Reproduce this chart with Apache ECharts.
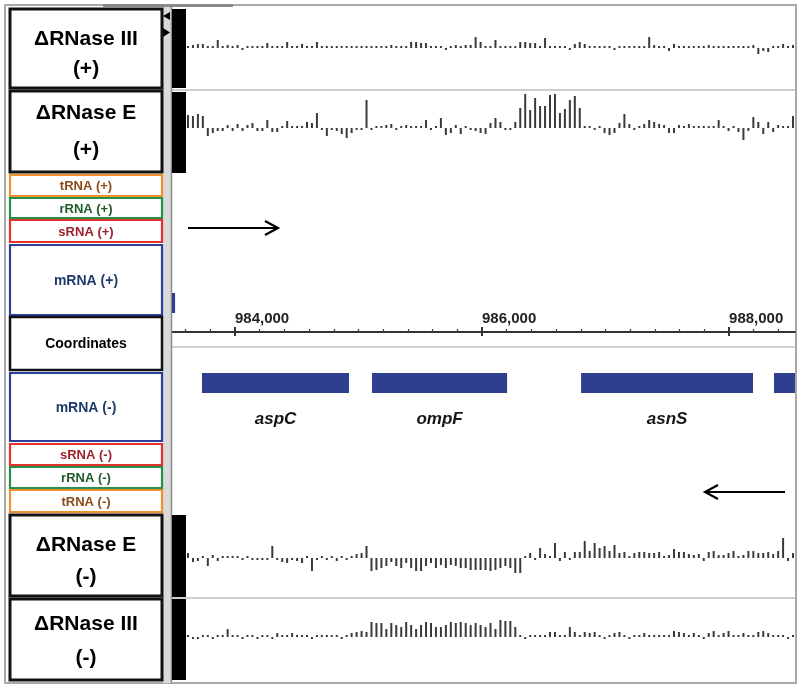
<!DOCTYPE html>
<html><head><meta charset="utf-8">
<script src="https://cdn.jsdelivr.net/npm/echarts@6/dist/echarts.min.js"></script>
<style>html,body{margin:0;padding:0;background:#fff}#c{width:800px;height:689px}</style>
</head><body><div id="c"></div>
<script>
// ---- coverage tracks (one value per bin) ----
const rnaseIIIPlus = [1,3,4,4,1,1,8,1,3,1, 3,-1,1,1,1,1,5,1,1,1, 6,1,1,4,1,1,6,1,1,1, 1,1,1,1,1,1,1,2,1,1,
  1,3,1,1,1,6,6,5,5,1, 1,1,-1,2,3,1,3,3,11,6, 1,2,8,2,1,1,1,6,6,5, 5,1,10,1,2,1,1,-1,4,6,
  4,1,1,1,2,1,-1,1,1,1, 1,1,2,11,3,2,1,-3,4,1, 1,1,1,1,1,3,1,1,1,1, 1,1,1,1,3,-6,-3,-4,1,1, 4,1,3];
const rnaseEPlus = [13,12,14,12,-8,-5,-3,-3,3,-3, 4,-3,3,5,-3,-3,8,-4,-4,2, 7,2,2,1,6,5,15,-1,-8,-2,
  -3,-6,-10,-5,-2,-2,28,-2,2,2, 3,4,-2,1,3,2,1,1,8,-2, 2,10,-7,-5,3,-6,1,-2,-3,-5,
  -6,5,10,6,-2,-2,6,20,34,18, 30,22,22,33,34,15,19,28,32,20, 2,2,-2,1,-5,-7,-5,5,14,4,
  -2,2,4,8,6,4,3,-5,-5,3, 2,4,1,1,1,1,1,8,2,-3, 2,-4,-12,-3,11,6,-6,6,-4,3, 2,1,12];
const rnaseEMinus = [5,-4,-3,1,-8,3,-3,1,1,2, 1,-1,1,-2,-2,-2,-2,12,-2,-4, -5,-2,-3,-5,2,-13,-2,1,-1,1,
  -3,1,-2,1,4,5,12,-13,-12,-10, -8,-4,-8,-10,-5,-10,-13,-13,-8,-5, -10,-7,-10,-7,-8,-10,-10,-12,-12,-12,
  -12,-13,-12,-10,-8,-10,-15,-15,2,5, -2,10,4,2,15,-3,6,-2,6,6, 17,7,15,10,12,7,13,5,6,1,
  5,6,6,5,5,6,2,3,9,6, 6,4,3,4,-3,6,7,3,3,5, 7,1,3,7,7,5,5,6,4,7, 20,-3,5];
const rnaseIIIMinus = [2,-2,-2,1,2,-1,1,1,8,1, 2,-1,1,2,-1,2,1,-1,4,1, 2,4,1,2,1,-1,1,1,1,1,
  1,-1,1,4,5,6,5,15,14,14, 8,14,12,10,15,12,8,12,15,14, 10,10,12,15,14,15,14,12,14,12,
  10,14,8,17,16,16,10,2,-1,1, 2,2,1,5,5,1,2,10,5,2, 5,4,5,1,-1,2,4,5,2,-1,
  2,2,4,1,1,2,1,1,6,5, 4,2,4,1,-1,4,6,2,4,6, 2,2,4,1,2,5,6,4,2,2, 1,-1,2];

// ---- genome coordinates ----
const coordRange = [983490, 988534];
const majorTicks = [984000, 986000, 988000];
const minorTicks = [983600, 983800, 984200, 984400, 984600, 984800, 985000, 985200, 985400, 985600, 985800,
  986200, 986400, 986600, 986800, 987000, 987200, 987400, 987600, 987800, 988200, 988400];

// ---- genes ----
const plusGeneNames = [''];
const plusGeneStarts = [983300];
const plusGeneEnds = [983515];
const minusGeneNames = ['aspC', 'ompF', 'asnS', ''];
const minusGeneStarts = [983733, 985109, 986802, 988364];
const minusGeneEnds = [984923, 986203, 988194, 988700];

// ---- track labels ----
const trackTitles = ['\u0394RNase III', '\u0394RNase E', '\u0394RNase E', '\u0394RNase III'];
const trackStrands = ['(+)', '(+)', '(-)', '(-)'];
const laneLabels = ['tRNA (+)', 'rRNA (+)', 'sRNA (+)', 'mRNA (+)', 'Coordinates', 'mRNA (-)', 'sRNA (-)', 'rRNA (-)', 'tRNA (-)'];

const chart = echarts.init(document.getElementById('c'), null, {renderer: 'canvas'});
const bins = rnaseIIIPlus.map((_, i) => i);
const tracks = [rnaseIIIPlus, rnaseEPlus, rnaseEMinus, rnaseIIIMinus];
const trackBaselines = [48, 128, 558, 637];
const H = 38;

const grids = [], xAxes = [], yAxes = [], series = [];
tracks.forEach((d, k) => {
  grids.push({left: 185.5, width: 610, top: trackBaselines[k] - H, height: 2 * H});
  xAxes.push({gridIndex: k, type: 'category', data: bins, show: false});
  yAxes.push({gridIndex: k, type: 'value', min: -H, max: H, show: false});
  series.push({type: 'bar', xAxisIndex: k, yAxisIndex: k, data: d, barWidth: 2, barMinHeight: 2,
    itemStyle: {color: '#3a3a3a'}, silent: true});
});
// coordinate axis grid (4)
grids.push({left: 172, width: 623, top: 300, height: 32});
const fmt = v => String(v).replace(/\B(?=(\d{3})+(?!\d))/g, ',');
xAxes.push({gridIndex: 4, type: 'value', min: coordRange[0], max: coordRange[1], position: 'bottom',
  axisLine: {show: true, lineStyle: {color: '#333', width: 2}},
  axisTick: {show: true, inside: true, length: 5, customValues: majorTicks, lineStyle: {color: '#333', width: 2}},
  axisLabel: {show: true, inside: true, customValues: majorTicks, align: 'left', margin: 6, color: '#222',
    fontSize: 15, fontWeight: 'bold', fontFamily: 'Liberation Sans, Arial', formatter: fmt},
  splitLine: {show: false}});
xAxes.push({gridIndex: 4, type: 'value', min: coordRange[0], max: coordRange[1], position: 'bottom',
  axisLine: {show: false},
  axisTick: {show: true, inside: true, length: 3, customValues: minorTicks, lineStyle: {color: '#444', width: 1.2}},
  axisLabel: {show: false}, splitLine: {show: false}});
xAxes.push({gridIndex: 4, type: 'value', min: coordRange[0], max: coordRange[1], position: 'bottom',
  axisLine: {show: false},
  axisTick: {show: true, inside: false, length: 4, customValues: majorTicks, lineStyle: {color: '#333', width: 2}},
  axisLabel: {show: false}, splitLine: {show: false}});
yAxes.push({gridIndex: 4, type: 'value', show: false});
// gene lanes (grids 5,6) -> xAxis 7,8 ; yAxis 5,6
grids.push({left: 172, width: 623, top: 293, height: 20});
grids.push({left: 172, width: 623, top: 373, height: 20});
xAxes.push({gridIndex: 5, type: 'value', min: coordRange[0], max: coordRange[1], show: false});
xAxes.push({gridIndex: 6, type: 'value', min: coordRange[0], max: coordRange[1], show: false});
yAxes.push({gridIndex: 5, type: 'category', data: ['mRNA (+)'], show: false});
yAxes.push({gridIndex: 6, type: 'category', data: ['mRNA (-)'], show: false});

function geneRender(names) {
  return function (params, api) {
    const s = api.coord([api.value(0), api.value(2)]);
    const e = api.coord([api.value(1), api.value(2)]);
    const h = api.size([0, 1])[1];
    const cs = params.coordSys;
    const r = echarts.graphic.clipRectByRect({x: s[0], y: s[1] - h / 2, width: e[0] - s[0], height: h},
      {x: cs.x, y: cs.y, width: cs.width, height: cs.height});
    if (!r) return;
    const children = [{type: 'rect', shape: r, style: {fill: '#2f3e8e'}}];
    const nm = names[params.dataIndex];
    if (nm) children.push({type: 'text', style: {text: nm, x: s[0] + (e[0] - s[0]) / 2, y: s[1] + h / 2 + 26,
      font: 'italic bold 17px "Liberation Sans", Arial', fill: '#151515', textAlign: 'center', textVerticalAlign: 'middle'}});
    return {type: 'group', children};
  };
}
series.push({type: 'custom', xAxisIndex: 7, yAxisIndex: 5, clip: false, silent: true,
  encode: {x: [0, 1], y: 2},
  renderItem: geneRender(plusGeneNames), data: plusGeneStarts.map((s, i) => [s, plusGeneEnds[i], 0])});
series.push({type: 'custom', xAxisIndex: 8, yAxisIndex: 6, clip: false, silent: true,
  encode: {x: [0, 1], y: 2},
  renderItem: geneRender(minusGeneNames), data: minusGeneStarts.map((s, i) => [s, minusGeneEnds[i], 0])});

// ---- decorative frame & label boxes ----
const g = [];
g.push({type: 'rect', z: 0, shape: {x: 5, y: 5, width: 791, height: 678}, style: {fill: 'none', stroke: '#a8a8a8', lineWidth: 2}});
g.push({type: 'rect', z: 1, shape: {x: 103, y: 4, width: 130, height: 3}, style: {fill: '#8a8a8a'}});
g.push({type: 'rect', z: 0, shape: {x: 163, y: 6, width: 9, height: 677}, style: {fill: '#dadada'}});
g.push({type: 'line', z: 1, shape: {x1: 171.5, y1: 6, x2: 171.5, y2: 683}, style: {stroke: '#8c8c8c', lineWidth: 1.5}});
[[9, 88], [92, 173], [515, 597], [599, 680]].forEach(([a, b]) =>
  g.push({type: 'rect', z: 5, shape: {x: 172, y: a, width: 14, height: b - a}, style: {fill: '#000'}}));
[90, 347, 598].forEach(y =>
  g.push({type: 'line', z: 1, shape: {x1: 172, y1: y, x2: 795, y2: y}, style: {stroke: '#a0a0a0', lineWidth: 1.2}}));
g.push({type: 'polygon', z: 5, shape: {points: [[170, 12], [163, 16], [170, 20]]}, style: {fill: '#000'}});
g.push({type: 'polygon', z: 5, shape: {points: [[163, 28], [170, 32.5], [163, 37]]}, style: {fill: '#000'}});

// track label boxes
const bigBoxes = [[10, 9, 88], [10, 91, 172], [10, 515, 596], [10, 599, 680]];
const bigLine1 = [39, 113, 545, 624];
const bigLine2 = [69, 150, 577, 658];
bigBoxes.forEach(([x, a, b], k) => {
  g.push({type: 'rect', z: 5, shape: {x: x, y: a, width: 152, height: b - a}, style: {fill: '#fff', stroke: '#111', lineWidth: 3}});
  g.push({type: 'text', z: 6, style: {text: trackTitles[k], x: 86, y: bigLine1[k], font: 'bold 21px "Liberation Sans", Arial',
    fill: '#000', textAlign: 'center', textVerticalAlign: 'middle'}});
  g.push({type: 'text', z: 6, style: {text: trackStrands[k], x: 86, y: bigLine2[k], font: 'bold 21px "Liberation Sans", Arial',
    fill: '#000', textAlign: 'center', textVerticalAlign: 'middle'}});
});
const laneBoxes = [[175, 196], [198, 218], [220, 242], [245, 315], [317, 370], [373, 441], [444, 465], [467, 488], [490, 512]];
const laneStroke = ['#ee912c', '#23914a', '#e2312f', '#2e3d9a', '#111', '#2e3d9a', '#e2312f', '#23914a', '#ee912c'];
const laneText = ['#8b4a1a', '#1f5c2a', '#a0202a', '#1e3a6a', '#000', '#1e3a6a', '#a0202a', '#1f5c2a', '#8b4a1a'];
laneBoxes.forEach(([a, b], k) => {
  g.push({type: 'rect', z: 5, shape: {x: 10, y: a, width: 152, height: b - a},
    style: {fill: '#fff', stroke: laneStroke[k], lineWidth: k === 4 ? 2.5 : 2.2}});
  const big = (k === 3 || k === 4 || k === 5);
  g.push({type: 'text', z: 6, style: {text: laneLabels[k], x: 86, y: (a + b) / 2 + 1,
    font: 'bold ' + (big ? 14 : 13) + 'px "Liberation Sans", Arial', fill: laneText[k], textAlign: 'center', textVerticalAlign: 'middle'}});
});
// strand arrows
g.push({type: 'polyline', z: 5, shape: {points: [[188, 228], [277, 228]]}, style: {stroke: '#000', lineWidth: 2.2}});
g.push({type: 'polyline', z: 5, shape: {points: [[265, 221], [278, 228], [265, 235]]}, style: {stroke: '#000', lineWidth: 2.2, fill: 'none'}});
g.push({type: 'polyline', z: 5, shape: {points: [[706, 492], [785, 492]]}, style: {stroke: '#000', lineWidth: 2.2}});
g.push({type: 'polyline', z: 5, shape: {points: [[718, 485], [705, 492], [718, 499]]}, style: {stroke: '#000', lineWidth: 2.2, fill: 'none'}});

chart.setOption({
  animation: false,
  backgroundColor: '#fff',
  grid: grids, xAxis: xAxes, yAxis: yAxes, series: series, graphic: g
});
</script></body></html>
